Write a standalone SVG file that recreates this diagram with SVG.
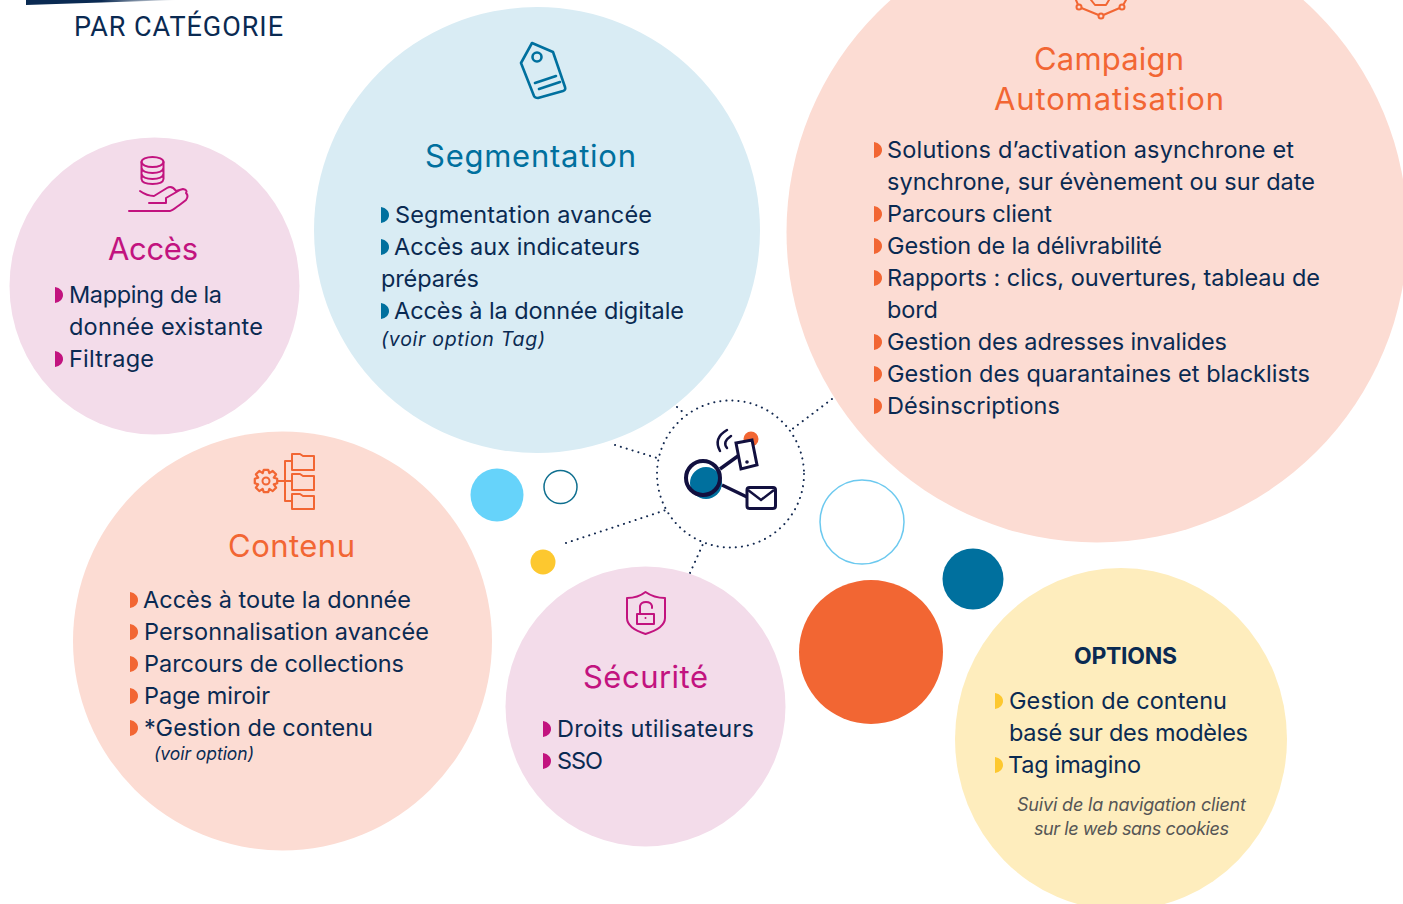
<svg xmlns="http://www.w3.org/2000/svg" width="1403" height="904" viewBox="0 0 1403 904">
<style>
text{font-family:"Inter","Roboto","Liberation Sans",sans-serif}
.b{font-size:23.5px;fill:#0a2a52}
.t{font-size:31px}
.i{font-size:19.5px;font-style:italic;fill:#0a2a52}
.ic{fill:none;stroke-width:2;stroke-linecap:round;stroke-linejoin:round}
.dot{fill:none;stroke:#12284f;stroke-width:2;stroke-dasharray:.1 6;stroke-linecap:round}
</style>
<defs>
<linearGradient id="g" x1="0" x2="1" y1="0" y2="0"><stop offset="0" stop-color="#0a2a52"/><stop offset=".5" stop-color="#0a2a52"/><stop offset="1" stop-color="#0a2a52" stop-opacity="0"/></linearGradient>
<path id="bu" d="M0-8C5-7 8-4 8 0S5 7 0 8Z"/>
</defs>
<rect width="1403" height="904" fill="#fff"/>
<path d="M26 0H177L26 5Z" fill="url(#g)"/>
<text x="74" y="36" textLength="209" style="font-family:Roboto,sans-serif;font-size:27px;fill:#0a2a52">PAR CATÉGORIE</text>
<g id="connectors">
<circle class="dot" cx="730.500" cy="474" r="73.500"/>
<path class="dot" d="M615 445L657 458M677 407L685 414M832 399L791 430M566 543L666 510M690 573L703 544"/>
</g>
<circle cx="497" cy="495" r="26.500" fill="#66d3fa"/>
<circle cx="560.500" cy="487" r="16.500" fill="none" stroke="#0f6f8f" stroke-width="1.500"/>
<circle cx="543" cy="562" r="12.500" fill="#fdc82f"/>
<circle cx="862" cy="522" r="42" fill="none" stroke="#6cc9ef" stroke-width="1.500"/>
<circle cx="973" cy="579" r="30.500" fill="#00709e"/>
<circle cx="871" cy="652" r="72" fill="#f26633"/>
<g id="center">
<circle cx="751" cy="439" r="7.500" fill="#f26633"/>
<circle cx="706" cy="483" r="16" fill="#00709e"/>
<circle cx="703" cy="478" r="17" fill="none" stroke="#12103f" stroke-width="4"/>
<path d="M720 469L738 456M722 485L747 497" fill="none" stroke="#12103f" stroke-width="3.500"/>
<path d="M736 443L752 440L757 465L741 469Z" fill="#fff" stroke="#12103f" stroke-width="3"/>
<circle cx="747" cy="462" r="1.800" fill="#12103f"/>
<rect x="747" y="487.500" width="28.500" height="21" rx="2.500" fill="#fff" stroke="#12103f" stroke-width="3"/>
<path d="M748 490L761 500L774 490" fill="none" stroke="#12103f" stroke-width="2.500"/>
<path d="M727 430Q713 438 720 451M731 436Q722 442 727 448" fill="none" stroke="#12103f" stroke-width="2.500" stroke-linecap="round"/>
</g>
<g id="segmentation">
<circle cx="537" cy="230" r="223" fill="#d9ecf4"/>
<g class="ic" stroke="#00709e" style="stroke-width:2.600">
<path d="M532 43L553 52L565 87Q566 90 563 91L538 98Q535 98 534 96L521 63Z"/>
<circle cx="537" cy="57" r="4.500"/>
<path d="M535 83L556 76M539 89L560 82"/></g>
<text class="t" x="425" y="167" textLength="211" fill="#00709e">Segmentation</text>
<g fill="#00709e"><use href="#bu" x="381" y="215"/><use href="#bu" x="381" y="247"/><use href="#bu" x="381" y="311"/></g>
<text class="b" x="395" y="223" textLength="257">Segmentation avancée</text>
<text class="b" x="394" y="255" textLength="246">Accès aux indicateurs</text>
<text class="b" x="381" y="287" textLength="98">préparés</text>
<text class="b" x="394" y="319" textLength="290">Accès à la donnée digitale</text>
<text class="i" x="381" y="346" textLength="164">(voir option Tag)</text>
</g>
<g id="campaign">
<circle cx="1097" cy="232" r="310.500" fill="#fcdcd3"/>
<path class="ic" stroke="#f26633" d="M1076 0L1079 7L1101 16L1122 7L1126 0M1091 0L1095 5H1106L1109 0"/>
<circle cx="1079" cy="7" r="2.500" fill="#fcdcd3" stroke="#f26633" stroke-width="2"/><circle cx="1101" cy="16" r="2.500" fill="#fcdcd3" stroke="#f26633" stroke-width="2"/><circle cx="1122" cy="7" r="2.500" fill="#fcdcd3" stroke="#f26633" stroke-width="2"/>
<text class="t" x="1034" y="70" textLength="150" fill="#f26633">Campaign</text>
<text class="t" x="994" y="110" textLength="230" fill="#f26633">Automatisation</text>
<g fill="#f26633"><use href="#bu" x="874" y="150"/><use href="#bu" x="874" y="214"/><use href="#bu" x="874" y="246"/><use href="#bu" x="874" y="278"/><use href="#bu" x="874" y="342"/><use href="#bu" x="874" y="374"/><use href="#bu" x="874" y="406"/></g>
<text class="b" x="887" y="158" textLength="407">Solutions d’activation asynchrone et</text>
<text class="b" x="887" y="190" textLength="428">synchrone, sur évènement ou sur date</text>
<text class="b" x="887" y="222" textLength="165">Parcours client</text>
<text class="b" x="887" y="254" textLength="275">Gestion de la délivrabilité</text>
<text class="b" x="887" y="286" textLength="433">Rapports : clics, ouvertures, tableau de</text>
<text class="b" x="887" y="318" textLength="51">bord</text>
<text class="b" x="887" y="350" textLength="340">Gestion des adresses invalides</text>
<text class="b" x="887" y="382" textLength="423">Gestion des quarantaines et blacklists</text>
<text class="b" x="887" y="414" textLength="173">Désinscriptions</text>
</g>
<g id="acces">
<ellipse cx="154.500" cy="286" rx="145" ry="148.500" fill="#f3dcea"/>
<g class="ic" stroke="#c2137f"><ellipse cx="152.500" cy="162" rx="11" ry="5"/><path d="M141.500 162V179Q142 184 152.500 184T163.500 179V162M141.500 168Q143 173 152.500 173T163.500 168M141.500 174Q143 179 152.500 179T163.500 174"/><path d="M129 211H170Q172 211 186 200Q189 196 186 193Q188 190 183 189L176 191Q172 185 167 188L154 196Q147 196 140 191M149 203H166M166 203V198L180 190"/></g>
<text class="t" x="108" y="260" textLength="90" fill="#c2137f">Accès</text>
<g fill="#c2137f"><use href="#bu" x="55" y="295"/><use href="#bu" x="55" y="359"/></g>
<text class="b" x="69" y="303" textLength="153">Mapping de la</text>
<text class="b" x="69" y="335" textLength="194">donnée existante</text>
<text class="b" x="69" y="367" textLength="85">Filtrage</text>
</g>
<g id="contenu">
<circle cx="282.500" cy="641" r="209.500" fill="#fcdcd3"/>
<g class="ic" stroke="#f26633">
<circle cx="266" cy="481" r="3.500"/>
<path d="M264 471L268 471L269 474L272 472L275 475L273 478L276 479V483L273 484L275 487L272 490L269 488L268 491H264L263 488L260 490L257 487L259 484L256 483V479L259 478L257 475L260 472L263 474Z" transform="translate(266 481) scale(1.120) translate(-266 -481)"/>
<path d="M278 481H292M285 461V501M285 461H292M285 501H292"/>
<path d="M292 454H300L303 456H314V470H292ZM292 474H300L303 476H314V490H292ZM292 494H300L303 496H314V509H292Z"/>
</g>
<text class="t" x="228" y="557" textLength="127" fill="#f26633">Contenu</text>
<g fill="#f26633"><use href="#bu" x="130" y="600"/><use href="#bu" x="130" y="632"/><use href="#bu" x="130" y="664"/><use href="#bu" x="130" y="696"/><use href="#bu" x="130" y="728"/></g>
<text class="b" x="143" y="608" textLength="268">Accès à toute la donnée</text>
<text class="b" x="144" y="640" textLength="285">Personnalisation avancée</text>
<text class="b" x="144" y="672" textLength="260">Parcours de collections</text>
<text class="b" x="144" y="704" textLength="126">Page miroir</text>
<text class="b" x="144" y="736" textLength="229">*Gestion de contenu</text>
<text class="i" x="154" y="760" textLength="100" style="font-size:17.500px">(voir option)</text>
</g>
<g id="securite">
<circle cx="645.500" cy="706.500" r="140" fill="#f3dcea"/>
<g class="ic" stroke="#c2137f"><path d="M645.500 592Q654 598 665 598V618Q665 628 645.500 634Q627 628 627 618V598Q638 598 645.500 592Z"/><rect x="637" y="614" width="17" height="10"/><path d="M640 614V606Q641 602 646 602T652 606V608"/></g>
<circle cx="645.500" cy="618" r="1" fill="#c2137f"/>
<text class="t" x="583" y="688" textLength="125" fill="#c2137f">Sécurité</text>
<g fill="#c2137f"><use href="#bu" x="543" y="729"/><use href="#bu" x="543" y="761"/></g>
<text class="b" x="557" y="737" textLength="197">Droits utilisateurs</text>
<text class="b" x="557" y="769" textLength="46">SSO</text>
</g>
<g id="options">
<ellipse cx="1121" cy="739" rx="166" ry="171" fill="#feedbd"/>
<text x="1074" y="664" textLength="103" style="font-size:23px;font-weight:700;fill:#0a2a52">OPTIONS</text>
<g fill="#fdc82f"><use href="#bu" x="995" y="701"/><use href="#bu" x="995" y="765"/></g>
<text class="b" x="1009" y="709" textLength="218">Gestion de contenu</text>
<text class="b" x="1009" y="741" textLength="239">basé sur des modèles</text>
<text class="b" x="1008" y="773" textLength="133">Tag imagino</text>
<text class="i" x="1017" y="811" textLength="229" style="font-size:18px;fill:#555">Suivi de la navigation client</text>
<text class="i" x="1034" y="835" textLength="195" style="font-size:18px;fill:#555">sur le web sans cookies</text>
</g>
</svg>
